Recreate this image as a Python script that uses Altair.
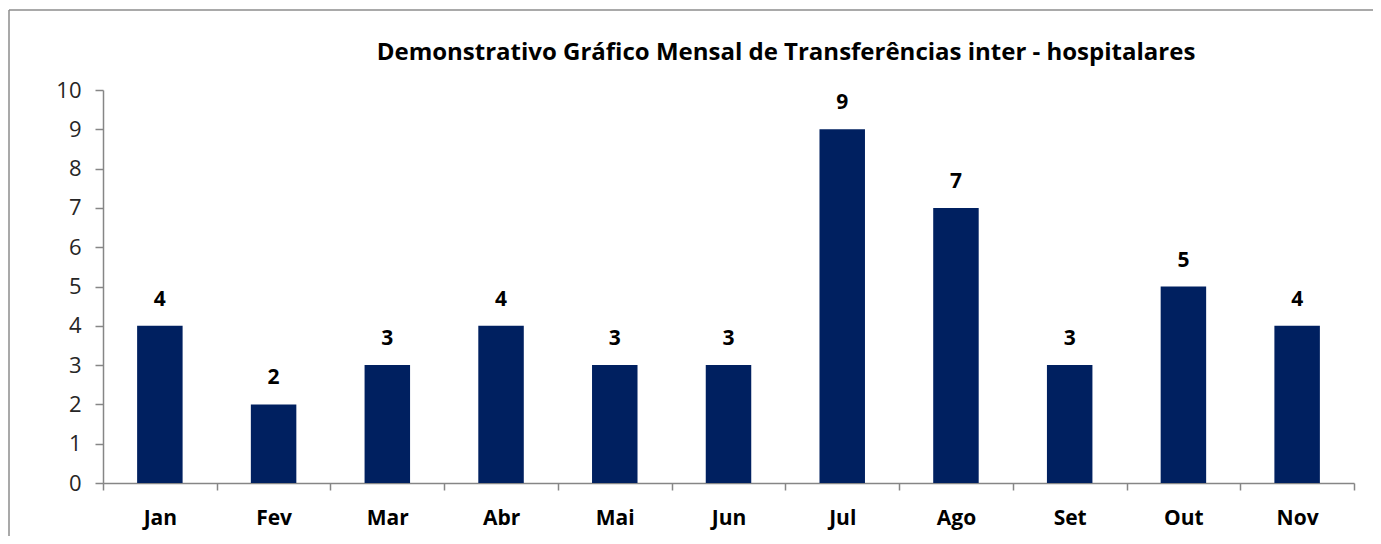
import altair as alt
import pandas as pd

months = ["Jan", "Fev", "Mar", "Abr", "Mai", "Jun", "Jul", "Ago", "Set", "Out", "Nov"]
values = [4, 2, 3, 4, 3, 3, 9, 7, 3, 5, 4]
y_ticks = [0, 1, 2, 3, 4, 5, 6, 7, 8, 9, 10]
title_text = "Demonstrativo Gráfico Mensal de Transferências inter - hospitalares"

df = pd.DataFrame({"mes": months, "valor": values})

FONT = "Open Sans"

x_enc = alt.X(
    "mes:N",
    sort=months,
    title=None,
    scale=alt.Scale(paddingInner=0, paddingOuter=0),
    axis=alt.Axis(
        labelAngle=0,
        labelFont=FONT,
        labelFontSize=21,
        labelFontWeight="bold",
        labelColor="#000000",
        labelPadding=17,
        domainColor="#868686",
        domainWidth=1.5,
        tickColor="#868686",
        tickWidth=1.5,
        tickSize=7,
        tickBand="extent",
    ),
)
y_enc = alt.Y(
    "valor:Q",
    title=None,
    scale=alt.Scale(domain=[0, 10], nice=False),
    axis=alt.Axis(
        values=y_ticks,
        tickCount=20,
        format="d",
        labelOverlap=False,
        grid=False,
        labelFont=FONT,
        labelFontSize=22,
        labelColor="#262626",
        labelPadding=14,
        domainColor="#868686",
        domainWidth=1.5,
        tickColor="#868686",
        tickWidth=1.5,
        tickSize=8,
    ),
)

base = alt.Chart(df)

bars = base.mark_bar(color="#002060", width=alt.RelativeBandSize(0.4)).encode(x=x_enc, y=y_enc)

labels = base.mark_text(
    font=FONT, fontSize=21, fontWeight="bold", color="#000000",
    baseline="alphabetic", dy=-20,
).encode(x=x_enc, y=y_enc, text="valor:Q")

title = alt.Chart(pd.DataFrame({"t": [title_text]})).mark_text(
    font=FONT, fontSize=24, fontWeight="bold", color="#000000",
    baseline="alphabetic", align="center",
).encode(x=alt.value(683), y=alt.value(-30), text="t:N")

border_top = alt.Chart(pd.DataFrame({"b": [0]})).mark_rule(
    color="#8c8c8c", strokeWidth=1.5
).encode(x=alt.value(-94), x2=alt.value(1275), y=alt.value(-80))

border_left = alt.Chart(pd.DataFrame({"b": [0]})).mark_rule(
    color="#8c8c8c", strokeWidth=1.5
).encode(x=alt.value(-94), y=alt.value(-80), y2=alt.value(460))

chart = (
    alt.layer(border_top, border_left, bars, labels, title)
    .properties(
        width=1251,
        height=393,
        autosize=alt.AutoSizeParams(type="none"),
        padding={"left": 95, "top": 82, "right": 19, "bottom": 53},
    )
    .configure_view(strokeWidth=0, stroke="transparent")
)

chart.save("out.html", embed_options={"renderer": "svg", "actions": False})
